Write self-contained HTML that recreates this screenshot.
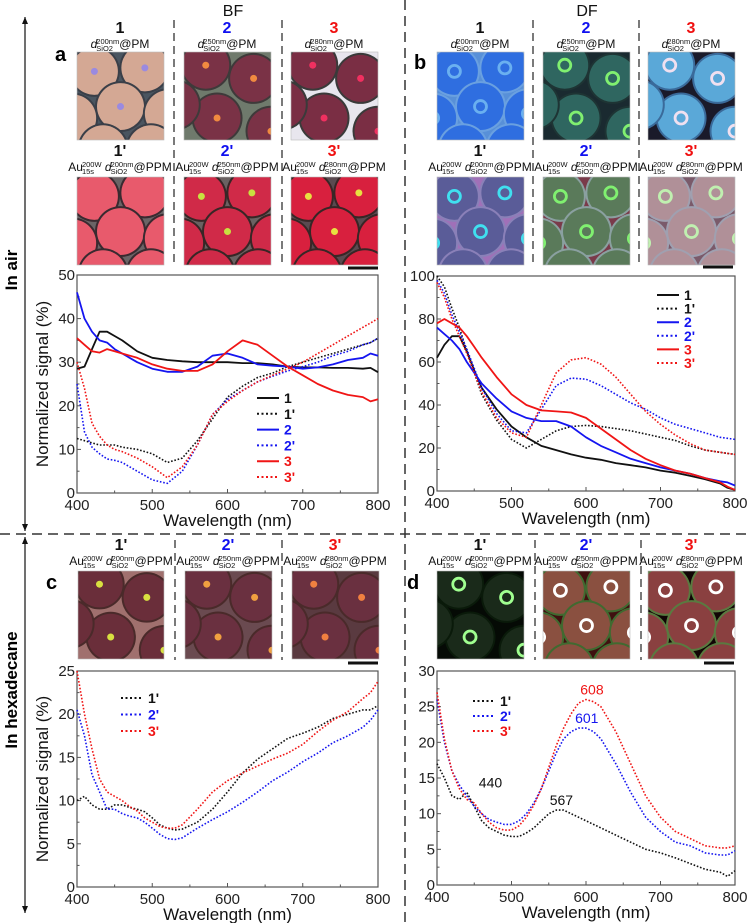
<!DOCTYPE html>
<html><head><meta charset="utf-8">
<style>
html,body{margin:0;padding:0;background:#fff;font-family:"Liberation Sans",Arial,sans-serif;}
#root{position:relative;width:747px;height:923px;overflow:hidden;font-family:"Liberation Sans",Arial,sans-serif;color:#111;}
svg{position:absolute;left:0;top:0;}
.lb{position:absolute;text-align:center;white-space:nowrap;transform:translateX(-50%);font-family:"Liberation Sans",Arial,sans-serif;}
.num{font-weight:bold;font-size:16px;line-height:16px;}
.sub{font-size:12px;line-height:14px;}
.ss{display:inline-block;vertical-align:middle;line-height:7px;text-align:left;font-size:7.5px;margin-left:-1px;}
.ss span{display:block;}
.it{font-style:italic;}
.blue{color:#1010f0}.red{color:#f01010}
.pl{position:absolute;font-weight:bold;font-size:20px;font-family:"Liberation Sans",Arial,sans-serif;}
</style></head>
<body>
<div id="root">
<svg id="svg" width="747" height="923" xmlns="http://www.w3.org/2000/svg"></svg>
</div>
<script>
// ===== Chart data =====
const wlA=[400,410,420,430,440,450,460,480,500,520,540,560,580,600,620,640,660,680,700,720,740,760,780,790,800];
const a_s1=[28.5,29,33,37,37,36,35,32.5,31,30.5,30.2,30,30,30,29.8,29.8,29.5,29,28.8,28.8,28.7,28.7,28.5,28.7,27.7];
const a_s1p=[12.5,12,11.5,11,11,11,10.5,10,9,7,8,12,17,22,24.5,26.5,27.5,29,30,31,32,33,34,34.5,35.5];
const a_s2=[46,40,37,35,34.5,33,32,30,28.5,27.8,27.8,29,31.5,32,31,29.5,29.2,29,28.5,28.8,29.5,30.5,31,32,31.5];
const a_s2p=[25,14,10.5,9,7.8,7.5,7,5,3,2.2,5,11,18,21.5,23.5,25.5,26.8,28,29,30,31.5,32.5,34,34.5,35.5];
const a_s3=[35.5,34,32.5,32.2,33,32.5,32,31,29.5,28.5,28,28,29.5,32.5,35,34,31.5,29,27,25,23.5,22.5,22,21,21.5];
const a_s3p=[30,24,16,13,11,10,9.5,8,6,3.5,6,11,18,21,23.5,25.5,27,28.5,30,32,34,36,38,39,40];

const wlB=[400,410,420,430,440,450,460,480,500,520,540,560,580,600,620,640,660,680,700,720,740,760,780,790,800];
const b_s1=[62,68,72,72,65,56,48,38,30,25,21,19,17,15.5,14.5,13,12,11,9.5,8.5,7,5.5,3.5,1.5,0.5];
const b_s1p=[100,95,85,76,65,55,45,33,24,20,24,28,30,30.5,30,29,28,26.5,25,23.5,21,19,18,17.5,17];
const b_s2=[76,73,70,66,60,55,50,43,37,34,32.5,32.5,30,25,21,18,15,13,11,9.5,8,6,4.5,4,2.5];
const b_s2p=[98,92,82,74,66,57,48,36,28,27,38,49,52.5,52,49,45,41,38,34,31,29,27,25,24.5,24];
const b_s3=[78,80,78,76,72,67,62,53,45,40,37.5,37,36.5,34,29,24,19,15,12,9.5,8,6,4,2,0.5];
const b_s3p=[97,90,80,72,64,55,46,34,27,25,40,55,61,62,59,53,45,37,31,26,22,19,18,17.5,17];

const wlC=[400,410,420,430,440,450,460,470,480,490,500,510,520,530,540,560,580,600,620,640,660,680,700,720,740,760,780,790,800];
const c_s1p=[10,10.5,9.5,9,9,9.5,9.5,9.2,9,8.7,8,7.2,6.8,6.6,6.7,7.5,9,11,13.2,14.8,16,17.2,17.8,18.5,19.5,20,20.5,20.5,21];
const c_s2p=[20.5,17.5,13,11,9,9,8.5,8.2,8,7.5,6.8,6.1,5.6,5.5,5.7,6.8,7.8,8.7,9.8,11,12.3,13.3,14.5,15.5,16.7,17.5,18.5,19.3,20.5];
const c_s3p=[25,20,16,12.5,11,10.5,10,9.3,8.8,8,7.5,7,6.8,6.8,7.2,9,11,12.3,13.2,14,14.8,15.5,16.5,18,19.3,20.3,21.8,22.5,23.8];

const wlD=[400,410,420,430,440,450,460,470,480,490,500,510,520,530,540,550,560,570,580,590,600,610,620,640,660,680,700,720,740,760,780,790,800];
const d_s1p=[17,15,12.5,12,13,11,9,8,7.5,7,6.8,6.8,7.3,8,9,10,10.5,10.5,10,9.5,9,8.5,8,7,6,5,4.5,3.8,3,2.2,1.8,1.2,2];
const d_s2p=[26,20,16,14,12.5,11,10,9.2,8.8,8.5,8.5,9,10,11.5,13.5,16,18.5,20.5,21.5,22,22,21.5,20.5,17,13,9.5,7.5,6,5.5,4.5,4.2,4.2,4.8];
const d_s3p=[27,20.5,16,13.5,12,11.5,10,8.8,8,7.7,7.7,8.3,9.5,11.2,13.5,16.5,19.5,22,24,25.5,26,25.7,25,21.5,17,12.5,9.5,7.5,6.5,5.5,5.2,5.2,5.5];

const xTicks=[400,500,600,700,800];
const yTicksA=[0,10,20,30,40,50];
const yTicksB=[0,20,40,60,80,100];
const yTicksC=[0,5,10,15,20,25];
const yTicksD=[0,5,10,15,20,25,30];
const legA=["1","1'","2","2'","3","3'"];
const peakWl=[440,567,601,608];
const peakVal=[13,10.5,22,26];
const peakLbl=["440","567","601","608"];

const NS="http://www.w3.org/2000/svg";
const svg=document.getElementById('svg');
function mk(tag,at,parent){const e=document.createElementNS(NS,tag);for(const k in at)e.setAttribute(k,at[k]);(parent||svg).appendChild(e);return e;}

let e;
e=mk('line',{x1:0,y1:534,x2:747,y2:534,stroke:'#333','stroke-width':1.5,'stroke-dasharray':'10,6'});


e=mk('line',{x1:405,y1:0,x2:405,y2:923,stroke:'#333','stroke-width':1.5,'stroke-dasharray':'10,6'});


function arrow(y1,y2,name){
  const g=mk('g',{});
  
  
  mk('line',{x1:25,y1:y1,x2:25,y2:y2,stroke:'#111','stroke-width':1.2},g);
  mk('polygon',{points:`22,${y1+7} 28,${y1+7} 25,${y1}`,fill:'#111'},g);
  mk('polygon',{points:`22,${y2-7} 28,${y2-7} 25,${y2}`,fill:'#111'},g);
}
arrow(17,531,'in-air-arrow');
arrow(537,913,'hexadecane-arrow');
e=mk('text',{x:0,y:0,transform:'translate(17,270) rotate(-90)','text-anchor':'middle','font-size':17,'font-weight':'bold','font-family':'Liberation Sans, sans-serif'});
e.textContent='In air';


e=mk('text',{x:0,y:0,transform:'translate(17,690) rotate(-90)','text-anchor':'middle','font-size':17,'font-weight':'bold','font-family':'Liberation Sans, sans-serif'});
e.textContent='In hexadecane';


function txt(x,y,s,size,name,extra){const t=mk('text',Object.assign({x:x,y:y,'font-size':size,'font-family':'Liberation Sans, sans-serif',fill:'#111'},extra||{}));t.textContent=s;return t;}
txt(233,16,'BF',16,'bf-title',{'text-anchor':'middle'});
txt(587,16,'DF',16,'df-title',{'text-anchor':'middle'});
[[174,20,265],[282,20,265],[533,20,265],[639,20,265],[175,540,660],[282,540,660],[535,540,660],[641,540,660]].forEach(d=>{
  e=mk('line',{x1:d[0],y1:d[1],x2:d[0],y2:d[2],stroke:'#333','stroke-width':1.3,'stroke-dasharray':'8,5'});
  
  
});

let clipId=0;
function micro(x,y,w,h,bg,sph,edge,dot,dotType,name,layout){
  const g=mk('g',{});
  
  
  const id='cl'+(clipId++);
  const cp=mk('clipPath',{id:id},g);mk('rect',{x:x,y:y,width:w,height:h},cp);
  const inner=mk('g',{'clip-path':`url(#${id})`},g);
  mk('rect',{x:x,y:y,width:w,height:h,fill:bg},inner);
  const pts=layout===1?[[0.25,0.15],[0.8,0.3],[0.38,0.75],[1.0,0.9],[-0.1,0.6]]:[[0.2,0.22],[0.78,0.18],[0.5,0.62],[-0.05,0.75],[1.05,0.7],[0.3,1.1],[0.85,1.1]];
  pts.forEach(p=>{
    const cx=x+p[0]*w,cy=y+p[1]*h,r=w*0.27;
    mk('circle',{cx:cx,cy:cy,r:r+2,fill:edge},inner);
    mk('circle',{cx:cx,cy:cy,r:r,fill:sph},inner);
    if(dotType==='dot')mk('circle',{cx:cx,cy:cy,r:3.5,fill:dot},inner);
    else if(dotType==='ring')mk('circle',{cx:cx,cy:cy,r:6,fill:'none',stroke:dot,'stroke-width':2.8},inner);
  });
  mk('rect',{x:x,y:y,width:w,height:h,fill:'none',stroke:'#bbb','stroke-width':0.6},g);
}
micro(77,52,87,88,'#4a5560','#d4a894','#3a3f48','#9a8ae0','dot','image-a1',0);
micro(184,52,87,88,'#6f7a6c','#7a3246','#3e3a3a','#f08a40','dot','image-a2',1);
micro(291,52,87,88,'#e8e6ee','#7a2e44','#3a3a3a','#f03060','dot','image-a3',1);
micro(77,177,87,88,'#6a6466','#e85a6c','#3a2a30','#f07080','none','image-a1p',0);
micro(184,177,87,88,'#6a6262','#d02a48','#382626','#c8e040','dot','image-a2p',0);
micro(291,177,87,88,'#5a4a50','#d8203e','#382626','#e8e040','dot','image-a3p',0);
micro(437,52,87,88,'#5890d8','#2f6ee0','#6aa0e0','#6ab0f0','ring','image-b1',0);
micro(543,52,87,88,'#1a2a30','#2f6660','#1e3434','#80f070','ring','image-b2',1);
micro(648,52,87,88,'#1a1a2a','#5aa8d8','#3a6a9a','#f0e0f0','ring','image-b3',1);
micro(437,177,87,88,'#a070b8','#5a5c98','#8a80b8','#40e0f0','ring','image-b1p',0);
micro(543,177,87,88,'#7a3a4a','#5a7a5a','#8aa0a0','#80f070','ring','image-b2p',0);
micro(648,177,87,88,'#7a5a6a','#b09098','#a0a0b0','#c0f0b0','ring','image-b3p',0);
micro(78,571,86,88,'#a0706e','#6a2e3a','#4a2a2a','#d8e040','dot','image-c1p',1);
micro(185,571,87,88,'#6a4a50','#6a3040','#4a2a2a','#f0a040','dot','image-c2p',1);
micro(292,571,87,88,'#5a3a40','#6a3040','#4a2a2a','#f08040','dot','image-c3p',1);
micro(437,571,87,88,'#050a05','#1a2a1a','#0a1a0a','#a0ff90','ring','image-d1p',1);
micro(543,571,87,88,'#401010','#8a5040','#406a30','#ffffff','ring','image-d2p',0);
micro(648,571,87,88,'#100505','#8a4040','#5a7a40','#ffffff','ring','image-d3p',0);
[[348,268],[703,267],[348,663],[704,663]].forEach(s=>{
  e=mk('rect',{x:s[0],y:s[1]-1.5,width:30,height:3,fill:'#111'});
  
  
});

function chart(o){
  const g=mk('g',{});
  
  
  const X=v=>o.x0+(v-400)/400*(o.x1-o.x0);
  const Y=v=>o.y0-(v-0)/o.ymax*(o.y0-o.y1);
  mk('rect',{x:o.x0,y:o.y1,width:o.x1-o.x0,height:o.y0-o.y1,fill:'none',stroke:'#555','stroke-width':1.2},g);
  xTicks.forEach((t,i)=>{
    mk('line',{x1:X(t),y1:o.y0,x2:X(t),y2:o.y0-4,stroke:'#555'},g);
    if(i<xTicks.length-1)mk('line',{x1:X(t+50),y1:o.y0,x2:X(t+50),y2:o.y0-2.5,stroke:'#555'},g);
    const tt=mk('text',{x:X(t),y:o.y0+17,'text-anchor':'middle','font-size':15,fill:'#222','font-family':'Liberation Sans, sans-serif'},g);tt.textContent=t;
    
    
  });
  const st=o.yt[1]-o.yt[0];
  o.yt.forEach((t,i)=>{
    mk('line',{x1:o.x0,y1:Y(t),x2:o.x0+4,y2:Y(t),stroke:'#555'},g);
    if(i<o.yt.length-1)mk('line',{x1:o.x0,y1:Y(t+st/2),x2:o.x0+2.5,y2:Y(t+st/2),stroke:'#555'},g);
    const tt=mk('text',{x:o.x0-2,y:Y(t)+5,'text-anchor':'end','font-size':15,fill:'#222','font-family':'Liberation Sans, sans-serif'},g);tt.textContent=t;
    
    
  });
  const xl=mk('text',{x:(o.x0+o.x1)/2,y:o.y0+33,'text-anchor':'middle','font-size':17,fill:'#111','font-family':'Liberation Sans, sans-serif'},g);xl.textContent='Wavelength (nm)';
  
  
  if(o.ytitle){const yl=mk('text',{transform:`translate(48,${(o.y0+o.y1)/2}) rotate(-90)`,'text-anchor':'middle','font-size':17,fill:'#111','font-family':'Liberation Sans, sans-serif'},g);yl.textContent='Normalized signal (%)';
    
    }
  o.series.forEach(s=>{
    const d=o.wl.map((w,i)=>(i?'L':'M')+X(w).toFixed(1)+','+Y(s.v[i]).toFixed(1)).join(' ');
    const p=mk('path',{d:d,fill:'none',stroke:s.c,'stroke-width':s.dot?1.6:1.8,'stroke-dasharray':s.dot?'1.6,1.8':'none','stroke-linejoin':'round'},g);
    
    
  });
  const L=o.leg;
  o.series.forEach((s,i)=>{
    const yy=L.y+i*L.dy;
    const ln=mk('line',{x1:L.x,y1:yy,x2:L.x+22,y2:yy,stroke:s.c,'stroke-width':2,'stroke-dasharray':s.dot?'2,2.5':'none'},g);
    
    
    const lt=mk('text',{x:L.x+27,y:yy+5,'font-size':14,'font-weight':'bold',fill:s.c,'font-family':'Liberation Sans, sans-serif'},g);lt.textContent=s.n;
    
    
  });
  return {X,Y,g};
}
const K='#111',B='#1515f0',R='#f01515';
chart({name:'chart-a',x0:77,x1:378,y0:493,y1:275,ymax:50,yt:yTicksA,wl:wlA,ytitle:true,leg:{x:257,y:398,dy:15.8},
 series:[{n:legA[0],v:a_s1,c:K},{n:legA[1],v:a_s1p,c:K,dot:1},{n:legA[2],v:a_s2,c:B},{n:legA[3],v:a_s2p,c:B,dot:1},{n:legA[4],v:a_s3,c:R},{n:legA[5],v:a_s3p,c:R,dot:1}]});
chart({name:'chart-b',x0:437,x1:735,y0:491,y1:276,ymax:100,yt:yTicksB,wl:wlB,leg:{x:657,y:295,dy:13.6},
 series:[{n:legA[0],v:b_s1,c:K},{n:legA[1],v:b_s1p,c:K,dot:1},{n:legA[2],v:b_s2,c:B},{n:legA[3],v:b_s2p,c:B,dot:1},{n:legA[4],v:b_s3,c:R},{n:legA[5],v:b_s3p,c:R,dot:1}]});
chart({name:'chart-c',x0:77,x1:378,y0:887,y1:671,ymax:25,yt:yTicksC,wl:wlC,ytitle:true,leg:{x:121,y:698,dy:16.5},
 series:[{n:legA[1],v:c_s1p,c:K,dot:1},{n:legA[3],v:c_s2p,c:B,dot:1},{n:legA[5],v:c_s3p,c:R,dot:1}]});
const cd=chart({name:'chart-d',x0:437,x1:735,y0:885,y1:671,ymax:30,yt:yTicksD,wl:wlD,leg:{x:473,y:701,dy:15},
 series:[{n:legA[1],v:d_s1p,c:K,dot:1},{n:legA[3],v:d_s2p,c:B,dot:1},{n:legA[5],v:d_s3p,c:R,dot:1}]});
const pc=['#111','#111',B,R];
peakWl.forEach((w,i)=>{
  const dx=i===0?12:0;
  const t=mk('text',{x:cd.X(w)+dx,y:cd.Y(peakVal[i])-5,'text-anchor':i===0?'start':'middle','font-size':14,fill:pc[i],'font-family':'Liberation Sans, sans-serif'},cd.g);
  t.textContent=peakLbl[i];
  
  
});
</script>
<div class="pl" style="left:55px;top:44px">a</div>
<div class="pl" style="left:414px;top:52px">b</div>
<div class="pl" style="left:46px;top:572px">c</div>
<div class="pl" style="left:407px;top:572px">d</div>
<script>
function cap(cx,ytop,num,cls,au,d,name){
  const div=document.createElement('div');
  div.className='lb';div.style.left=cx+'px';div.style.top=ytop+'px';
  div.innerHTML=`<div class="num ${cls}">${num}</div><div class="sub">${au?'Au<span class="ss"><span>200W</span><span>15s</span></span> ':''}<span class="it">d</span><span class="ss"><span>${d}</span><span>SiO2</span></span>@${au?'PPM':'PM'}</div>`;
  
  
  document.getElementById('root').appendChild(div);
}
const capD=['200nm','250nm','280nm'];
const capN=['1','2','3'];
const capC=['','blue','red'];
[[120,227,334],[480,586,691]].forEach((xs,pi)=>{
  xs.forEach((x,i)=>{
    cap(x,21,capN[i],capC[i],false,capD[i],'caption-top-'+pi+'-'+i);
    cap(x,144,capN[i]+"'",capC[i],true,capD[i],'caption-mid-'+pi+'-'+i);
  });
});
[[121,228,335],[480,586,691]].forEach((xs,pi)=>{
  xs.forEach((x,i)=>cap(x,538,capN[i]+"'",capC[i],true,capD[i],'caption-bottom-'+pi+'-'+i));
});
</script>
</body></html>
